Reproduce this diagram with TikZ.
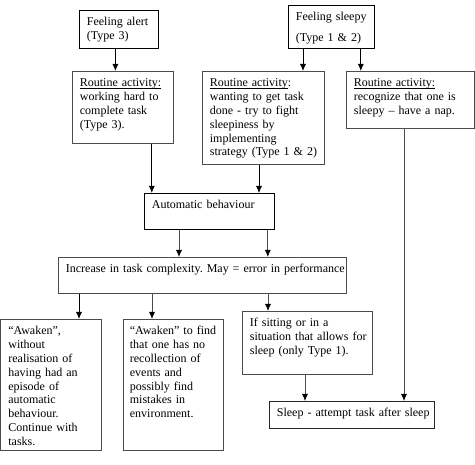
\documentclass[tikz,border=0pt]{standalone}
\usepackage{fontspec}
\setmainfont{Liberation Serif}
\usetikzlibrary{arrows.meta}

% word-processor style underline, close to the baseline
\newcommand{\underl}[1]{\setbox0=\hbox{#1}\rlap{\rule[-1.6pt]{\wd0}{0.6pt}}\box0}

\tikzset{
  box/.style={draw=black!70, line width=0.8pt, anchor=north west, align=left,
    inner xsep=7.5pt, inner ysep=5.5pt, text height=10pt,
    font=\fontsize{12}{13.8}\selectfont\frenchspacing,
    execute at begin node={\rightskip=0pt plus 1fil minus 10pt\linepenalty=1000\hyphenpenalty=10000\relax}},
  arr/.style={draw=black!70, line width=0.8pt, -{Latex[length=7pt,width=6pt,color=black]}},
}

\begin{document}
\begin{tikzpicture}[x=1pt, y=-1pt]
  \useasboundingbox (0,0) rectangle (475,465);

  % how the person feels
  \node[box, draw=black, text width=64pt, text depth=17pt] (alert) at (79,10) {Feeling alert\\(Type 3)};
  \node[box, draw=black, text width=71pt, text depth=22pt] (sleepy) at (288,5) {Feeling sleepy\\[7.3pt](Type 1 \& 2)};

  % routine activities
  \node[box, text width=86pt, text depth=51pt] (rout1) at (72,71)
    {\underl{Routine activity:}\\working hard to\\complete task\\(Type 3).};
  \node[box, text width=107pt, text depth=72pt] (rout2) at (202,71)
    {\underl{Routine activity}:\\wanting to get task\\done - try to fight\\sleepiness by\\implementing\\strategy (Type 1 \& 2)};
  \node[box, text width=113pt, text depth=36pt] (rout3) at (346,71)
    {\underl{Routine activity:}\\recognize that one is\\sleepy – have a nap.};

  \node[box, draw=black, text width=115pt, text depth=15pt] (auto) at (144,193) {Automatic behaviour};
  \node[box, text width=273pt, text depth=15pt] (incr) at (58,257)
    {Increase in task complexity. May = error in performance};

  % outcomes
  \node[box, text width=85pt, text depth=110pt] (awake1) at (0.5,319)
    {“Awaken”,\\without\\realisation of\\having had an\\episode of\\automatic\\behaviour.\\Continue with\\tasks.};
  \node[box, inner xsep=6.5pt, text width=87pt, text depth=110pt] (awake2) at (123,319)
    {“Awaken” to find\\that one has no\\recollection of\\events and\\possibly find\\mistakes in\\environment.};
  \node[box, text width=115pt, text depth=42pt] (sit) at (242,311)
    {If sitting or in a\\situation that allows for\\sleep (only Type 1).};
  \node[box, draw=black!85, text width=150pt, text depth=6pt] (sleep) at (269,401)
    {Sleep - attempt task after sleep};

  % arrows
  \draw[arr, draw=black] ([xshift=-3.5pt]alert.south) -- ([xshift=-3.5pt]alert.south |- rout1.north);
  \draw[arr, draw=black] ([xshift=15pt]sleepy.south west) -- ([xshift=15pt]sleepy.south west |- rout2.north);
  \draw[arr, draw=black] ([xshift=-14pt]sleepy.south east) -- ([xshift=-14pt]sleepy.south east |- rout3.north);
  \draw[arr, draw=black] ([xshift=-22pt]rout1.south east) -- ([xshift=-22pt]rout1.south east |- auto.north);
  \draw[arr, draw=black] ([xshift=57pt]rout2.south west) -- ([xshift=57pt]rout2.south west |- auto.north);
  \draw[arr] ([xshift=35pt]auto.south west) -- ([xshift=35pt]auto.south west |- incr.north);
  \draw[arr] ([xshift=-7pt]auto.south east) -- ([xshift=-7pt]auto.south east |- incr.north);
  \draw[arr, draw=black] ([xshift=21pt]incr.south west) -- ([xshift=21pt]incr.south west |- awake1.north);
  \draw[arr] ([xshift=94pt]incr.south west) -- ([xshift=94pt]incr.south west |- awake2.north);
  \draw[arr] ([xshift=210pt]incr.south west) -- ([xshift=210pt]incr.south west |- sit.north);
  \draw[arr] ([xshift=63pt]sit.south west) -- ([xshift=63pt]sit.south west |- sleep.north);
  \draw[arr] ([xshift=58pt]rout3.south west) -- ([xshift=58pt]rout3.south west |- sleep.north);
\end{tikzpicture}
\end{document}
